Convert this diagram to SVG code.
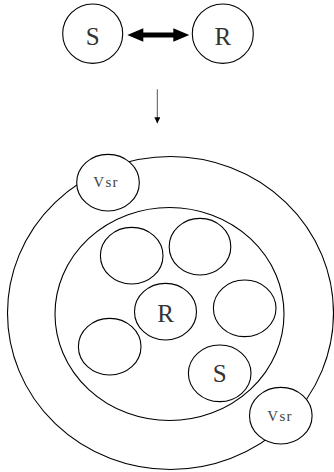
<svg xmlns="http://www.w3.org/2000/svg" width="334" height="472" viewBox="0 0 334 472">
  <style>
    .shape { fill: #ffffff; stroke: #000000; stroke-width: 1.1; }
    .ring { fill: none; stroke: #000000; stroke-width: 1.1; }
    .big { font-family: "Liberation Serif", "DejaVu Serif", serif; font-size: 25px; fill: #333333; text-anchor: middle; }
    .small { font-family: "Liberation Serif", "DejaVu Serif", serif; font-size: 15px; fill: #444444; text-anchor: middle; letter-spacing: 1.2px; }
  </style>
  <defs>
    <marker id="head" markerWidth="6" markerHeight="6" refX="6" refY="3" orient="auto" markerUnits="userSpaceOnUse">
      <path d="M0,0 L6,3 L0,6 Z" fill="#000000"/>
    </marker>
  </defs>

  <!-- top: two peers -->
  <g id="node-s-top">
    <ellipse class="shape" cx="92.7" cy="33.7" rx="30" ry="29.7"/>
    <text class="big" x="92.7" y="45">S</text>
  </g>
  <g id="node-r-top">
    <ellipse class="shape" cx="222.8" cy="33.7" rx="30.5" ry="29.7"/>
    <text class="big" x="222.8" y="45">R</text>
  </g>

  <!-- outer and inner zones -->
  <g id="zone-outer">
    <ellipse class="ring" cx="170.5" cy="313" rx="163" ry="156.5"/>
  </g>
  <g id="zone-inner">
    <ellipse class="ring" cx="169.5" cy="314" rx="114.5" ry="106.5"/>
  </g>

  <g id="node-a">
    <ellipse class="shape" cx="131.7" cy="255.7" rx="31.3" ry="28.3"/>
  </g>
  <g id="node-b">
    <ellipse class="shape" cx="200" cy="246.7" rx="30.8" ry="28.3"/>
  </g>
  <g id="node-r">
    <ellipse class="shape" cx="165.5" cy="311.7" rx="31" ry="28.3"/>
    <text class="big" x="165.5" y="321.7">R</text>
  </g>
  <g id="node-c">
    <ellipse class="shape" cx="244.7" cy="308.3" rx="31.3" ry="28.3"/>
  </g>
  <g id="node-d">
    <ellipse class="shape" cx="109.7" cy="346.7" rx="31.3" ry="28.3"/>
  </g>
  <g id="node-s">
    <ellipse class="shape" cx="219.7" cy="373.3" rx="31.3" ry="28.3"/>
    <text class="big" x="219.7" y="381.7">S</text>
  </g>

  <g id="node-vsr-top">
    <ellipse class="shape" cx="108" cy="182.7" rx="31.3" ry="28.3"/>
    <text class="small" x="106" y="187">Vsr</text>
  </g>
  <g id="node-vsr-bottom">
    <ellipse class="shape" cx="280.8" cy="415.7" rx="31.3" ry="28.3"/>
    <text class="small" x="280" y="421">Vsr</text>
  </g>

  <!-- connectors -->
  <g id="connectors">
    <path d="M127.3,35 L143.3,28.3 L143.3,32.5 L173.3,32.5 L173.3,28.3 L189.3,35 L173.3,41.7 L173.3,37.5 L143.3,37.5 L143.3,41.7 Z" fill="#000000"/>
    <line x1="157.3" y1="89.3" x2="157.3" y2="123.3" stroke="#555555" stroke-width="1" marker-end="url(#head)"/>
  </g>
</svg>
